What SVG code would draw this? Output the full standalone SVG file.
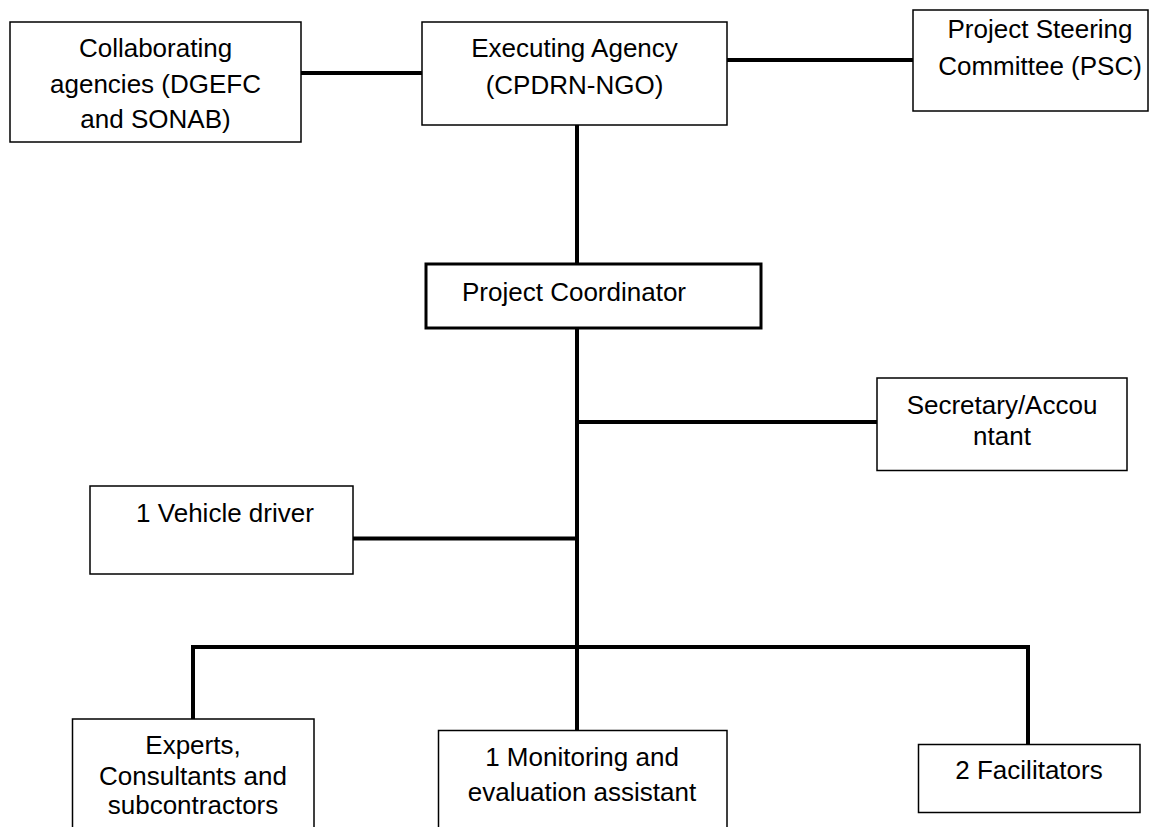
<svg xmlns="http://www.w3.org/2000/svg" width="1155" height="827" viewBox="0 0 1155 827">
<style>
.box{fill:#fff;stroke:#000;stroke-width:1.5}
.thick{fill:#fff;stroke:#000;stroke-width:3}
.conn{stroke:#000;stroke-width:4;fill:none;stroke-linecap:square}
text{font-family:"Liberation Sans",Arial,sans-serif;font-size:26px;fill:#000;text-anchor:middle}
</style>
<rect width="1155" height="827" fill="#fff"/>
<g id="connectors">
<line class="conn" x1="301" y1="73" x2="422" y2="73"/>
<line class="conn" x1="727" y1="60" x2="913" y2="60"/>
<line class="conn" x1="577" y1="125" x2="577" y2="264"/>
<line class="conn" x1="577" y1="329" x2="577" y2="730"/>
<line class="conn" x1="577" y1="422" x2="877" y2="422"/>
<line class="conn" x1="353" y1="538.5" x2="577" y2="538.5"/>
<polyline class="conn" points="193,719 193,647 1028,647 1028,744"/>
</g>
<g id="collaborating">
<rect class="box" x="10" y="22" width="291" height="120"/>
<text x="155.5" y="57">Collaborating</text>
<text x="155.5" y="92.5">agencies (DGEFC</text>
<text x="155.5" y="128">and SONAB)</text>
</g>
<g id="executing">
<rect class="box" x="422" y="22" width="305" height="103"/>
<text x="574.5" y="57">Executing Agency</text>
<text x="574.5" y="94">(CPDRN-NGO)</text>
</g>
<g id="psc">
<rect class="box" x="913" y="10" width="235" height="101"/>
<text x="1040" y="37.5">Project Steering</text>
<text x="1040" y="75">Committee (PSC)</text>
</g>
<g id="coordinator">
<rect class="thick" x="426" y="264" width="335" height="64"/>
<text x="574" y="300.5">Project Coordinator</text>
</g>
<g id="secretary">
<rect class="box" x="877" y="378" width="250" height="92.5"/>
<text x="1002" y="414">Secretary/Accou</text>
<text x="1002" y="445">ntant</text>
</g>
<g id="driver">
<rect class="box" x="90" y="486" width="263" height="88"/>
<text x="225" y="522">1 Vehicle driver</text>
</g>
<g id="experts">
<rect class="box" x="72.5" y="719" width="241.5" height="130"/>
<text x="193" y="753.5">Experts,</text>
<text x="193" y="785">Consultants and</text>
<text x="193" y="814">subcontractors</text>
</g>
<g id="monitoring">
<rect class="box" x="438.5" y="730.5" width="288.5" height="120"/>
<text x="582" y="766">1 Monitoring and</text>
<text x="582" y="800.5">evaluation assistant</text>
</g>
<g id="facilitators">
<rect class="box" x="918.5" y="744.5" width="221.5" height="68"/>
<text x="1029" y="779">2 Facilitators</text>
</g>
</svg>
